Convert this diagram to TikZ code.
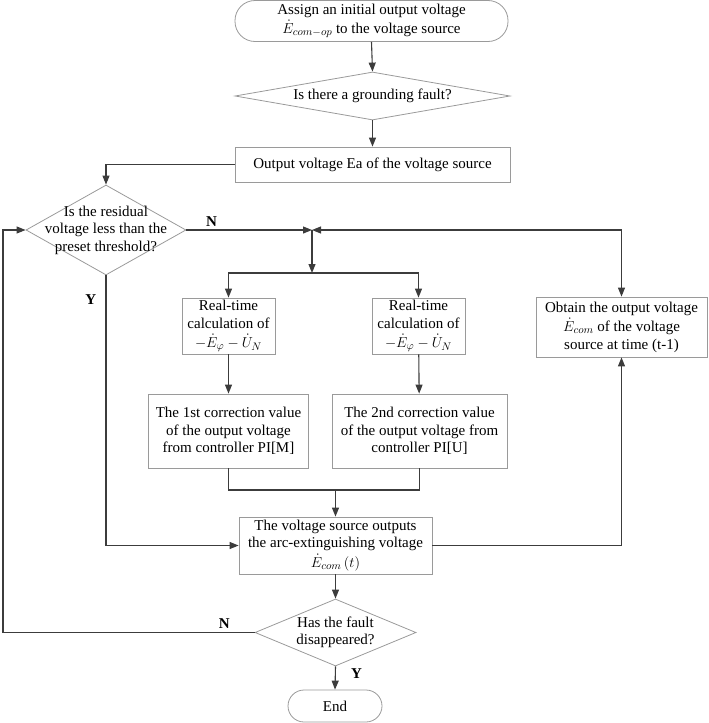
\documentclass[tikz,border=0pt]{standalone}
\usepackage{fontspec}
\setmainfont{Liberation Serif}
\usetikzlibrary{shapes.geometric,arrows.meta,positioning,calc}
\definecolor{linegray}{HTML}{3C3C3C}
\definecolor{boxgray}{HTML}{9A9A9A}

\begin{document}
\begin{tikzpicture}[
    x=1pt, y=-1pt,
    font=\fontsize{15}{17.5}\selectfont,
    box/.style={rectangle, draw=boxgray, line width=0.8pt, align=center, inner xsep=2pt, inner ysep=1pt},
    term/.style={box, rounded corners=16pt},
    decision/.style={diamond, draw=boxgray, line width=0.8pt, inner sep=0pt},
    txt/.style={align=center, inner sep=0pt},
    yn/.style={font=\fontsize{15}{17}\selectfont\bfseries},
    arrow/.style={-{Triangle[length=9pt,width=7pt]}, draw=linegray, line width=1.1pt},
    line/.style={draw=linegray, line width=1.1pt}
]
\useasboundingbox (0,0) rectangle (709,723);

% main column
\node[term, minimum width=273pt, minimum height=41pt, rounded corners=20pt] (start) at (371.5,21)
    {Assign an initial output voltage\\[1pt] $\dot{E}_{com-op}$ to the voltage source};
\node[decision, minimum width=275pt, minimum height=48pt,
    label={[txt]center:Is there a grounding fault?}] (fault) at (372.5,96) {};
\node[box, minimum width=275pt, minimum height=35pt] (ea) at (372.5,164.5)
    {Output voltage Ea of the voltage source};
\node[decision, minimum width=160pt, minimum height=90pt,
    label={[txt]center:Is the residual\\voltage less than the\\preset threshold?}] (resid) at (106,230) {};

% two correction branches
\coordinate (split) at (312,230);
\coordinate (fork) at (312,273);
\node[box, minimum width=93pt, minimum height=56pt] (calcM) at (228.5,326)
    {Real-time\\calculation of\\[2pt] $-\dot{E}_{\varphi}-\dot{U}_{N}$};
\node[box, minimum width=93pt, minimum height=56pt] (calcU) at (418.5,326)
    {Real-time\\calculation of\\[2pt] $-\dot{E}_{\varphi}-\dot{U}_{N}$};
\node[box, minimum width=160pt, minimum height=74pt] (corrM) at (228.5,431)
    {The 1st correction value\\of the output voltage\\from controller PI[M]};
\node[box, minimum width=175pt, minimum height=74pt] (corrU) at (419.5,431)
    {The 2nd correction value\\of the output voltage from\\controller PI[U]};
\node[box, minimum width=171pt, minimum height=60pt] (prev) at (621.5,327)
    {Obtain the output voltage\\[2pt] $\dot{E}_{com}$ of the voltage\\source at time (t-1)};
\coordinate (merge) at (335.5,490);

\node[box, minimum width=193pt, minimum height=57pt] (out) at (335.5,545.5)
    {The voltage source outputs\\the arc-extinguishing voltage\\[2pt] $\dot{E}_{com}\left(t\right)$};
\node[decision, minimum width=161pt, minimum height=67pt,
    label={[txt]center:Has the fault\\disappeared?}] (gone) at (335.5,632.5) {};
\node[term, minimum width=94pt, minimum height=32pt] (end) at (335,706) {End};
\coordinate (back) at (3,632.5);

% connectors
\draw[arrow] (start.south) -- (fault.north);
\draw[arrow] (fault.south) -- (ea.north);
\draw[arrow] (ea.west) -| (resid.north);
\draw[arrow] (resid.east) -- node[yn, above, pos=0.2] {N} (split);
\draw[{Triangle[length=9pt,width=7pt]}-{Triangle[length=9pt,width=7pt]}, line] (split) -| (prev.north);
\draw[arrow] (split) -- (fork);
\draw[arrow] (fork) -| (calcM.north);
\draw[arrow] (fork) -| (calcU.north);
\draw[arrow] (calcM) -- (corrM);
\draw[arrow] (calcU) -- (corrU);
\draw[line] (corrM.south) |- (merge) -| (corrU.south);
\draw[arrow] (merge) -- (out.north);
\draw[arrow] (resid.south) |- node[yn, pos=0.045, left=6pt] {Y} (out.west);
\draw[arrow] (out.east) -| (prev.south);
\draw[arrow] (out.south) -- (gone.north);
\draw[arrow] (gone.south) -- node[yn, right=12pt, pos=0.3] {Y} (end.north);
\draw[arrow] (gone.west) -- node[yn, above, pos=0.12] {N} (back) |- (resid.west);
\end{tikzpicture}
\end{document}
